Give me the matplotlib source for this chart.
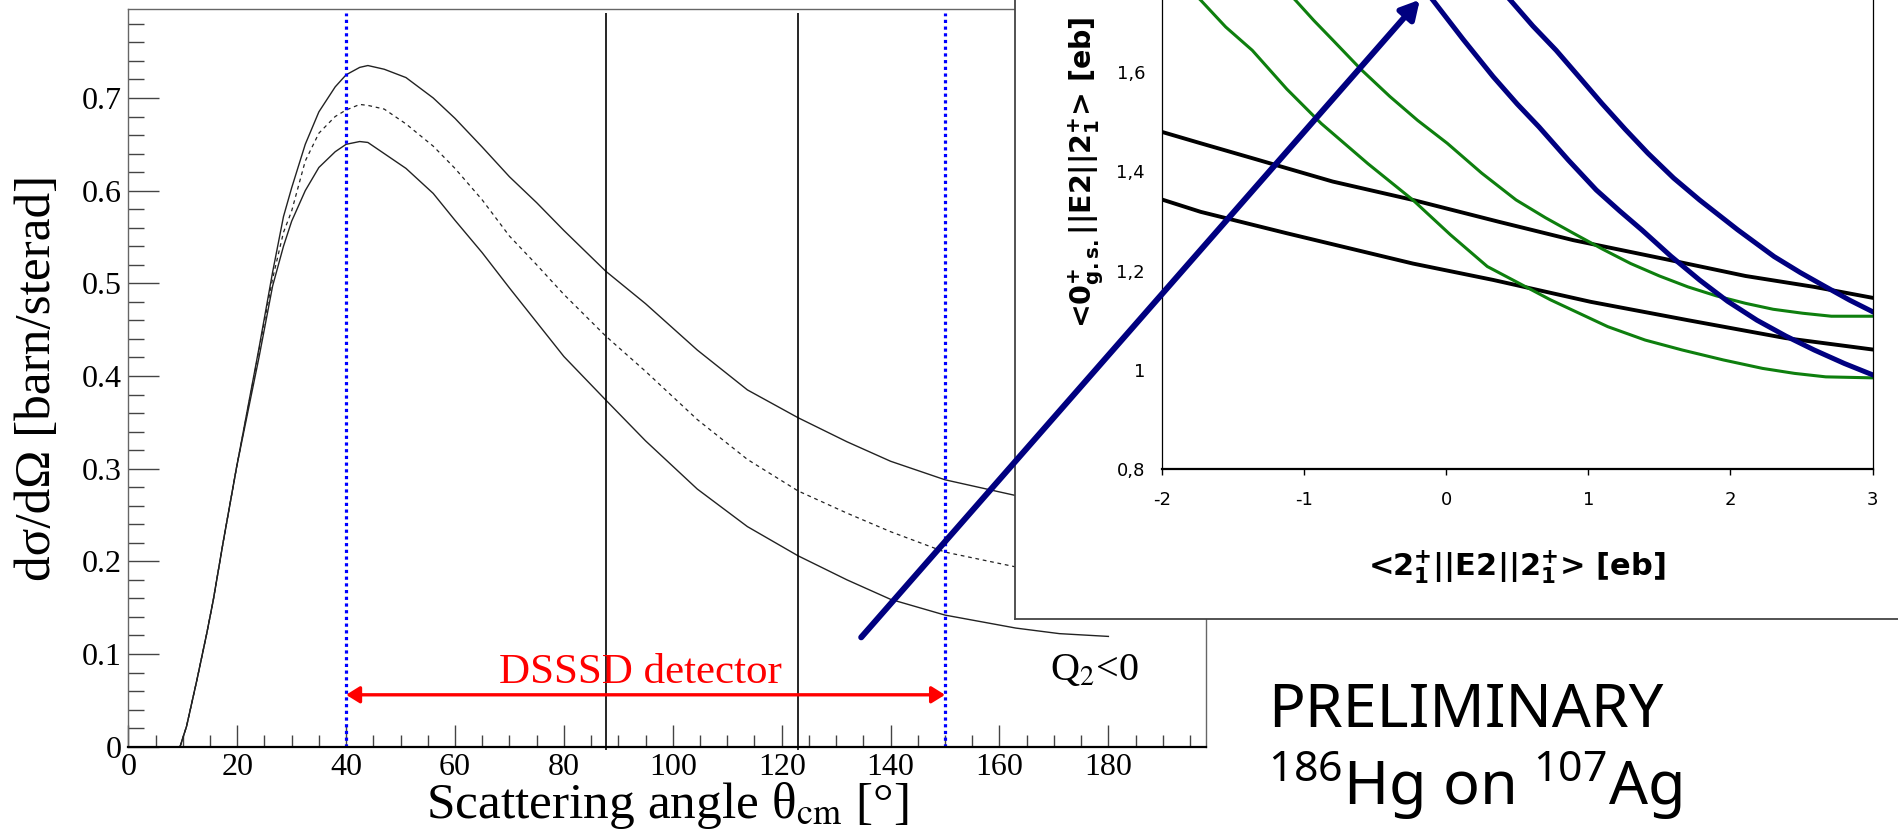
import matplotlib
matplotlib.use("Agg")
import matplotlib.pyplot as plt
from matplotlib.ticker import MultipleLocator, FuncFormatter
from matplotlib.patches import FancyArrowPatch, ArrowStyle

plt.rcParams['mathtext.fontset'] = 'custom'
plt.rcParams['mathtext.rm'] = 'Noto Sans'
plt.rcParams['mathtext.it'] = 'Noto Sans:italic'
plt.rcParams['mathtext.bf'] = 'Noto Sans:bold'
plt.rcParams['axes.unicode_minus'] = False

# ---- main plot data: Rutherford-like cross sections ----
angle = [9.5, 10.7, 12.6, 14.4, 15.6, 17.4, 19.9, 22.4, 24, 26.5, 28.5, 30, 32.5,
         35, 38, 40, 42.5, 44, 47, 51, 56, 60, 65, 70, 75, 80, 87.7, 95, 104.5,
         113.7, 123, 132, 140, 150, 163, 171, 180]
upper = [0, 0.022, 0.072, 0.122, 0.158, 0.22, 0.302, 0.38, 0.43, 0.512, 0.572, 0.603,
         0.65, 0.685, 0.712, 0.725, 0.733, 0.735, 0.731, 0.722, 0.70, 0.678, 0.647,
         0.615, 0.587, 0.557, 0.513, 0.478, 0.428, 0.385, 0.355, 0.329, 0.308, 0.288,
         0.271, 0.266, 0.263]
central = [0, 0.022, 0.072, 0.122, 0.158, 0.22, 0.302, 0.378, 0.428, 0.505, 0.555,
           0.578, 0.632, 0.662, 0.68, 0.687, 0.693, 0.692, 0.688, 0.672, 0.648, 0.624,
           0.59, 0.551, 0.52, 0.488, 0.443, 0.405, 0.353, 0.31, 0.276, 0.252, 0.232,
           0.21, 0.194, 0.189, 0.186]
lower = [0, 0.022, 0.072, 0.122, 0.158, 0.22, 0.302, 0.374, 0.42, 0.497, 0.54, 0.567,
         0.6, 0.625, 0.642, 0.65, 0.653, 0.652, 0.64, 0.624, 0.597, 0.568, 0.533, 0.495,
         0.458, 0.421, 0.374, 0.33, 0.278, 0.2375, 0.206, 0.18, 0.159, 0.142, 0.128,
         0.122, 0.119]
detector_lines = [87.7, 123.0]
dsssd_range = [40, 150]

# ---- inset data: <0+||E2||2+> vs <2+||E2||2+> ----
inset_yticks = [0.8, 1.0, 1.2, 1.4, 1.6]
black1_x = [-2, -1.726, -1.363, -0.798, -0.234, 0.371, 0.895, 1.54, 2.105, 2.589, 3.0]
black1_y = [1.479, 1.456, 1.426, 1.379, 1.342, 1.298, 1.261, 1.223, 1.189, 1.167, 1.145]
black2_x = [-2, -1.726, -1.121, -0.234, 0.331, 1.016, 1.701, 2.387, 3.0]
black2_y = [1.343, 1.318, 1.275, 1.214, 1.181, 1.137, 1.10, 1.064, 1.041]
green1_x = [-1.82, -1.726, -1.55, -1.363, -1.12, -0.879, -0.55, -0.234, 0.03, 0.29,
            0.734, 1.137, 1.40, 1.661, 1.95, 2.226, 2.45, 2.67, 3.0]
green1_y = [1.77, 1.744, 1.69, 1.643, 1.565, 1.496, 1.415, 1.342, 1.272, 1.208,
            1.141, 1.087, 1.06, 1.04, 1.02, 1.003, 0.993, 0.986, 0.984]
green2_x = [-1.15, -1.06, -0.93, -0.798, -0.6, -0.395, -0.2, 0.008, 0.25, 0.492, 0.7,
            0.895, 1.1, 1.298, 1.5, 1.701, 1.9, 2.105, 2.3, 2.508, 2.709, 3.0]
green2_y = [1.77, 1.744, 1.703, 1.664, 1.605, 1.55, 1.502, 1.456, 1.396, 1.342, 1.306,
            1.275, 1.243, 1.214, 1.189, 1.167, 1.149, 1.134, 1.122, 1.114, 1.108, 1.108]
navy1_x = [-0.17, -0.093, 0.12, 0.331, 0.5, 0.653, 0.86, 1.056, 1.22, 1.379, 1.58,
           1.782, 1.98, 2.186, 2.39, 2.589, 2.8, 3.0]
navy1_y = [1.772, 1.744, 1.665, 1.59, 1.535, 1.489, 1.422, 1.362, 1.32, 1.281, 1.229,
           1.181, 1.138, 1.10, 1.068, 1.04, 1.013, 0.99]
navy2_x = [0.37, 0.452, 0.61, 0.774, 0.94, 1.096, 1.26, 1.419, 1.6, 1.782, 2.05, 2.307,
           2.49, 2.67, 2.84, 3.0]
navy2_y = [1.77, 1.744, 1.692, 1.643, 1.588, 1.536, 1.484, 1.436, 1.386, 1.342, 1.282,
           1.228, 1.196, 1.167, 1.14, 1.117]

# big arrow from main plot into inset (main-axes data coords)
arrow_start = (134.6, 0.118)
arrow_end = (237.2, 0.806)

W, H = 1899, 832
fig = plt.figure(figsize=(W / 100, H / 100), dpi=100)
serif = 'Liberation Serif'
navy = '#000080'
green = '#0e7f0e'


def box(l, r, t, b):
    return [l / W, 1 - b / H, (r - l) / W, (b - t) / H]


# ---- main axes ----
ax = fig.add_axes(box(128.3, 1206.4, 9, 746.7))
ax.plot(angle, upper, color='#222222', lw=1.0)
ax.plot(angle, central, color='#222222', lw=0.9, dashes=(3, 3))
ax.plot(angle, lower, color='#222222', lw=1.0)
ax.vlines(detector_lines, -0.004, 0.792, color='black', lw=1.2, clip_on=False)
ax.vlines(dsssd_range, 0, 0.792, color='#0000ff', lw=2.3, linestyles=(0, (1, 1.1)))
ax.annotate('', xy=(dsssd_range[0], 0.056), xytext=(dsssd_range[1], 0.056),
            arrowprops=dict(arrowstyle=ArrowStyle('<|-|>', head_length=0.45, head_width=0.28),
                            mutation_scale=18, color='#ff0000', lw=2.4,
                            shrinkA=0, shrinkB=0))
ax.text(94.0, 0.0688, 'DSSSD detector', color='#ff0000', family=serif, fontsize=31,
        ha='center', va='baseline')
ax.text(169.3, 0.072, r'Q$_2$<0', family=serif, math_fontfamily='stix', fontsize=29,
        ha='left', va='baseline')

ax.set_xlim(0, 198)
ax.set_ylim(0, 0.796)
ax.xaxis.set_major_locator(MultipleLocator(20))
ax.xaxis.set_minor_locator(MultipleLocator(5))
ax.yaxis.set_major_locator(MultipleLocator(0.1))
ax.yaxis.set_minor_locator(MultipleLocator(0.02))
ax.xaxis.set_major_formatter(FuncFormatter(lambda v, p: '%d' % round(v)))
ax.yaxis.set_major_formatter(FuncFormatter(lambda v, p: '0' if abs(v) < 1e-9 else '%.1f' % v))
ax.tick_params(axis='y', which='major', direction='in', length=22, width=1, color='#444444',
               labelsize=23, labelfontfamily=serif, pad=4.5)
ax.tick_params(axis='y', which='minor', direction='in', length=11.5, width=1, color='#444444')
ax.tick_params(axis='x', which='major', direction='in', length=16, width=1, color='#444444',
               labelsize=23, labelfontfamily=serif, pad=4.5)
ax.tick_params(axis='x', which='minor', direction='in', length=8.6, width=1, color='#444444')
for s in ['top', 'right', 'left']:
    ax.spines[s].set_color('#666666')
    ax.spines[s].set_linewidth(1.0)
ax.spines['bottom'].set_linewidth(1.6)
ax.spines['bottom'].set_color('black')

ax.set_xlabel('Scattering angle θ$_{\\rm cm}$ [°]', family=serif, math_fontfamily='stix',
              fontsize=37)
ax.xaxis.set_label_coords(0.5, -0.0967)
ax.xaxis.label.set_va('baseline')
ax.set_ylabel('dσ/dΩ [barn/sterad]', family=serif, fontsize=37)
ax.yaxis.set_label_coords(-0.084, 0.5)
ax.yaxis.label.set_va('center')

# ---- inset frame ----
frame = fig.add_axes(box(1015.5, 1915, -10, 619))
frame.set_zorder(2)
frame.set_xticks([])
frame.set_yticks([])
frame.set_facecolor('white')
for s in frame.spines.values():
    s.set_color('#444444')
    s.set_linewidth(1.3)

ins = fig.add_axes(box(1161.7, 1872.7, 469.3 - 497, 469.3))
ins.set_zorder(3)
ins.patch.set_alpha(0)
ins.plot(black1_x, black1_y, color='black', lw=2.8)
ins.plot(black2_x, black2_y, color='black', lw=2.8)
ins.plot(green1_x, green1_y, color=green, lw=2.2)
ins.plot(green2_x, green2_y, color=green, lw=2.2)
ins.plot(navy1_x, navy1_y, color=navy, lw=3.6)
ins.plot(navy2_x, navy2_y, color=navy, lw=3.6)
ins.set_xlim(-2, 3)
ins.set_ylim(0.8, 1.8)
ins.xaxis.set_major_locator(MultipleLocator(1))
ins.set_yticks(inset_yticks)
ins.yaxis.set_major_formatter(FuncFormatter(
    lambda v, p: '1' if abs(v - 1) < 1e-9 else ('%.1f' % v).replace('.', ',')))
ins.tick_params(axis='x', direction='out', length=4.3, width=1, labelsize=13, pad=11)
ins.tick_params(axis='y', length=0, labelsize=13, pad=12)
for s in ['left', 'right', 'top']:
    ins.spines[s].set_linewidth(0.9)
ins.spines['bottom'].set_linewidth(1.6)

bold = dict(family='DejaVu Sans', fontweight='bold', math_fontfamily='dejavusans')
fig.text(1517 / W, 1 - 575 / H,
         r'<2$^{\mathbf{+}}_{\mathbf{1}}$||E2||2$^{\mathbf{+}}_{\mathbf{1}}$> [eb]',
         ha='center', va='baseline', zorder=5, fontsize=22, **bold)
fig.text(1092 / W, 1 - 172 / H,
         r'<0$^{\mathbf{+}}_{\mathbf{g.s.}}$||E2||2$^{\mathbf{+}}_{\mathbf{1}}$> [eb]',
         ha='center', va='baseline', rotation=90, rotation_mode='anchor', zorder=5,
         fontsize=20.5, **bold)

# ---- labels on the right ----
fig.text(1268 / W, 1 - 727 / H, 'PRELIMINARY', family='Noto Sans', fontsize=44, va='baseline')
fig.text(1268 / W, 1 - 805 / H, r'$^{186}$Hg on $^{107}$Ag', family='Noto Sans',
         math_fontfamily='custom', fontsize=44, va='baseline')

# ---- big navy arrow on top of everything ----
arrow = FancyArrowPatch(arrow_start, arrow_end, transform=ax.transData,
                        arrowstyle=ArrowStyle('-|>', head_length=0.55, head_width=0.3),
                        mutation_scale=20, color=navy, lw=4.3, shrinkA=0, shrinkB=0,
                        zorder=10)
fig.add_artist(arrow)

fig.savefig('out.png', dpi=100)
